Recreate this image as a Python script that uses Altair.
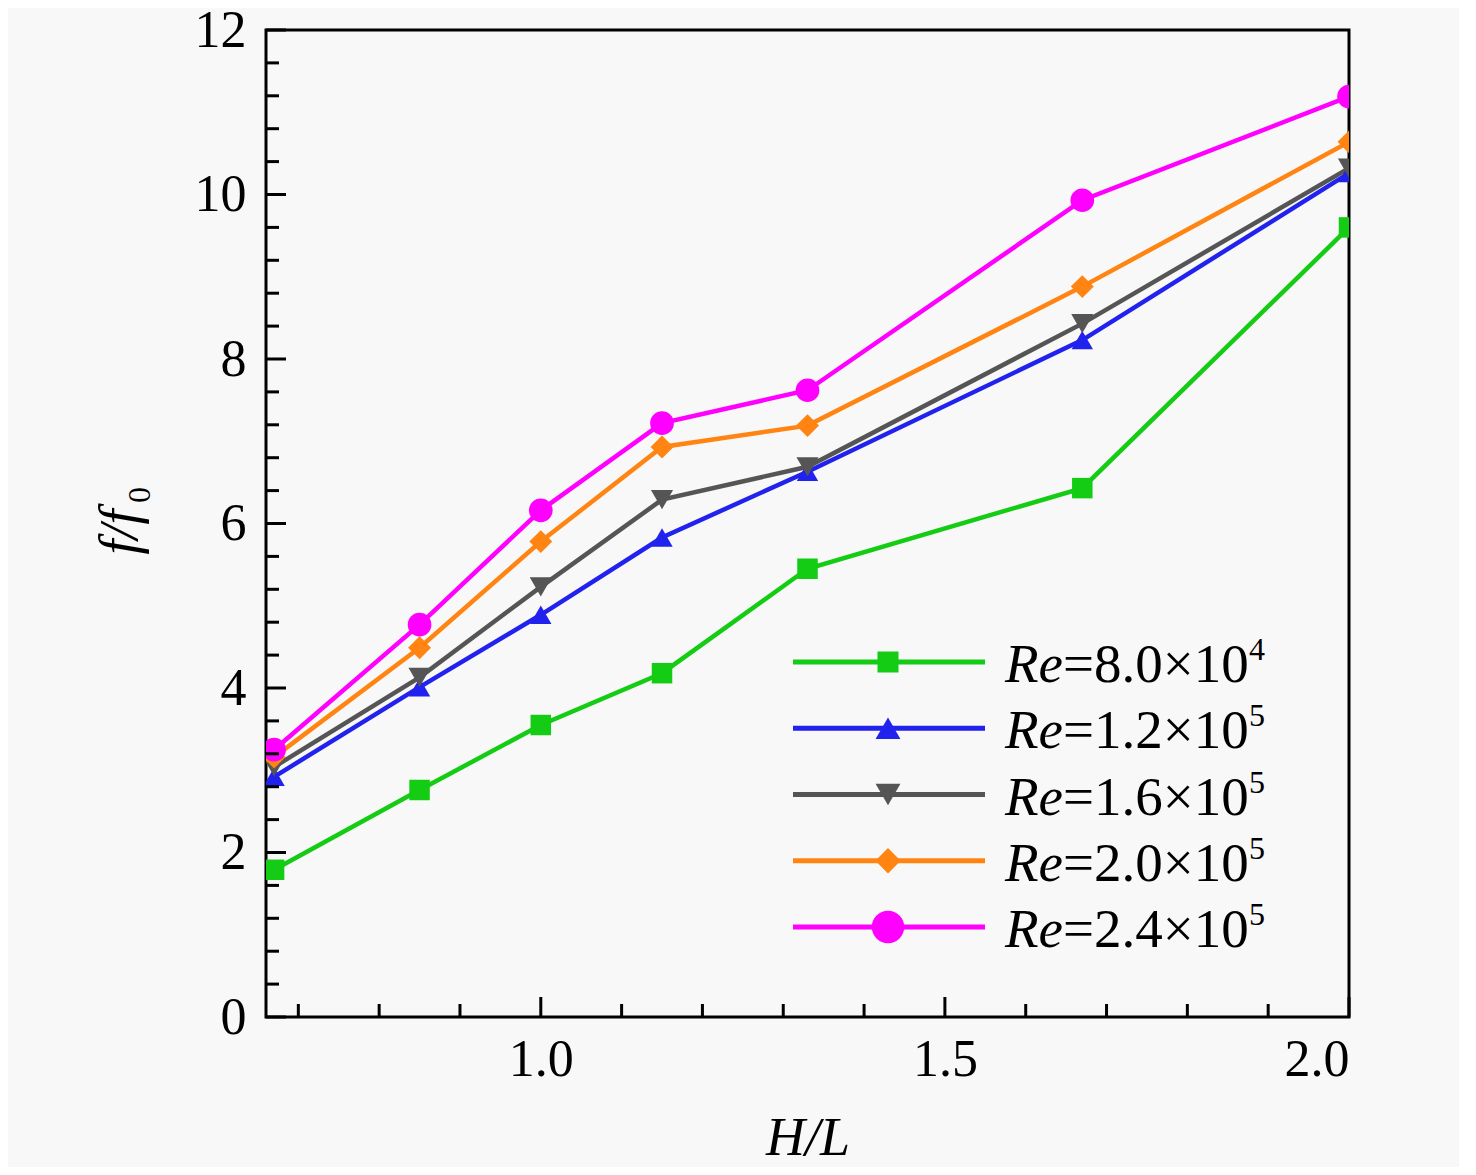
import altair as alt
import pandas as pd

# ---------------- data ----------------
hl = [0.67, 0.85, 1.0, 1.15, 1.33, 1.67, 2.0]
re_80 = [1.79, 2.76, 3.55, 4.18, 5.45, 6.43, 9.60]
re_120 = [2.92, 4.01, 4.89, 5.83, 6.63, 8.23, 10.26]
re_160 = [3.04, 4.13, 5.23, 6.29, 6.69, 8.43, 10.32]
re_200 = [3.16, 4.49, 5.78, 6.93, 7.19, 8.88, 10.64]
re_240 = [3.25, 4.77, 6.16, 7.22, 7.62, 9.93, 11.19]

series_names = ["Re=8.0e4", "Re=1.2e5", "Re=1.6e5", "Re=2.0e5", "Re=2.4e5"]
series_vals = [re_80, re_120, re_160, re_200, re_240]
colors = ["#14CC14", "#2222EE", "#555555", "#FF8411", "#FF00FF"]
shapes = ["square", "triangle-up", "triangle-down", "diamond", "circle"]
sizes = [420, 560, 560, 560, 800]
legend_sizes = [440, 620, 620, 640, 1050]
legend_mant = ["=8.0\u00d710", "=1.2\u00d710", "=1.6\u00d710", "=2.0\u00d710", "=2.4\u00d710"]
legend_exp = ["4", "5", "5", "5", "5"]

x_major = [1.0, 1.5, 2.0]
x_minor = [0.7, 0.8, 0.9, 1.1, 1.2, 1.3, 1.4, 1.6, 1.7, 1.8, 1.9]
y_major = [0, 2, 4, 6, 8, 10, 12]
y_minor = [0.4, 0.8, 1.2, 1.6, 2.4, 2.8, 3.2, 3.6, 4.4, 4.8, 5.2, 5.6,
           6.4, 6.8, 7.2, 7.6, 8.4, 8.8, 9.2, 9.6, 10.4, 10.8, 11.2, 11.6]

rows = []
for name, vals in zip(series_names, series_vals):
    for xv, yv in zip(hl, vals):
        rows.append({"series": name, "hl": xv, "ff": yv})
df = pd.DataFrame(rows)

W, H = 1083, 987
FONT = "Liberation Serif"
BG = "#f8f8f8"

xscale = alt.Scale(domain=[0.66, 2.0], nice=False, zero=False)
yscale = alt.Scale(domain=[0, 12], nice=False, zero=True)
cscale = alt.Scale(domain=series_names, range=colors)
sscale = alt.Scale(domain=series_names, range=shapes)
zscale = alt.Scale(domain=series_names, range=sizes)

xaxis = alt.Axis(values=x_major, format=".1f", ticks=False, domain=False, grid=False,
                 title=None, labelFont=FONT, labelFontSize=52, labelColor="black",
                 labelPadding=58, labelBaseline="alphabetic")
yaxis = alt.Axis(values=y_major, format="d", ticks=False, domain=False, grid=False,
                 title=None, labelFont=FONT, labelFontSize=52, labelColor="black",
                 labelPadding=20)

base = alt.Chart(df)

lines = base.mark_line(strokeWidth=4.5, clip=True).encode(
    x=alt.X("hl:Q", scale=xscale, axis=xaxis),
    y=alt.Y("ff:Q", scale=yscale, axis=yaxis),
    color=alt.Color("series:N", scale=cscale, legend=None),
    detail="series:N",
)
points = base.mark_point(filled=True, opacity=1, clip=True).encode(
    x=alt.X("hl:Q", scale=xscale),
    y=alt.Y("ff:Q", scale=yscale),
    color=alt.Color("series:N", scale=cscale, legend=None),
    shape=alt.Shape("series:N", scale=sscale, legend=None),
    size=alt.Size("series:N", scale=zscale, legend=None),
)

# inward ticks
ymaj = alt.Chart(pd.DataFrame({"v": y_major})).mark_rule(color="black", strokeWidth=3).encode(
    y=alt.Y("v:Q", scale=yscale), x=alt.value(0), x2=alt.value(20))
ymin = alt.Chart(pd.DataFrame({"v": y_minor})).mark_rule(color="black", strokeWidth=3).encode(
    y=alt.Y("v:Q", scale=yscale), x=alt.value(0), x2=alt.value(13))
xmaj = alt.Chart(pd.DataFrame({"v": x_major})).mark_rule(color="black", strokeWidth=3).encode(
    x=alt.X("v:Q", scale=xscale), y=alt.value(H), y2=alt.value(H - 20))
xmin = alt.Chart(pd.DataFrame({"v": x_minor})).mark_rule(color="black", strokeWidth=3).encode(
    x=alt.X("v:Q", scale=xscale), y=alt.value(H), y2=alt.value(H - 13))

# legend
leg_df = pd.DataFrame({"series": series_names, "row": list(range(5)),
                       "mant": legend_mant, "exp": legend_exp, "lsize": legend_sizes})
leg = alt.Chart(leg_df).transform_calculate(
    ly="632 + 66.25 * datum.row", ty="652 + 66.25 * datum.row", sy="630 + 66.25 * datum.row")
leg_line = leg.mark_rule(strokeWidth=5).encode(
    x=alt.value(527), x2=alt.value(719), y=alt.Y("ly:Q", scale=None),
    color=alt.Color("series:N", scale=cscale, legend=None))
leg_pt = leg.mark_point(filled=True, opacity=1).encode(
    x=alt.value(622), y=alt.Y("ly:Q", scale=None),
    color=alt.Color("series:N", scale=cscale, legend=None),
    shape=alt.Shape("series:N", scale=sscale, legend=None),
    size=alt.Size("lsize:Q", scale=None, legend=None))
leg_re = leg.mark_text(text="Re", font=FONT, fontSize=55, fontStyle="italic",
                       align="left", baseline="alphabetic", color="black").encode(
    x=alt.value(739), y=alt.Y("ty:Q", scale=None))
leg_m = leg.mark_text(font=FONT, fontSize=55, align="left", baseline="alphabetic",
                      color="black").encode(
    x=alt.value(797), y=alt.Y("ty:Q", scale=None), text="mant:N")
leg_e = leg.mark_text(font=FONT, fontSize=32, align="left", baseline="alphabetic",
                      color="black").encode(
    x=alt.value(983), y=alt.Y("sy:Q", scale=None), text="exp:N")

# axis titles
one = pd.DataFrame({"k": [0]})
xtitle = alt.Chart(one).mark_text(text="H/L", font=FONT, fontSize=54, fontStyle="italic",
                                  align="center", baseline="bottom", color="black").encode(
    x=alt.value(542), y=alt.value(1136))
ytitle = alt.Chart(one).mark_text(text="f/f", font=FONT, fontSize=54, fontStyle="italic",
                                  angle=270, align="center", baseline="alphabetic",
                                  color="black").encode(
    x=alt.value(-129), y=alt.value(502))
ysub = alt.Chart(one).mark_text(text="0", font=FONT, fontSize=32,
                                angle=270, align="center", baseline="alphabetic",
                                color="black").encode(
    x=alt.value(-116), y=alt.value(465))

chart = alt.layer(
    lines, points, ymaj, ymin, xmaj, xmin,
    leg_line, leg_pt, leg_re, leg_m, leg_e, xtitle, ytitle, ysub,
).properties(
    width=W, height=H,
    autosize=alt.AutoSizeParams(type="none"),
    padding={"left": 258, "top": 22, "right": 110, "bottom": 150},
    background=BG,
).configure_view(
    stroke="black", strokeWidth=3, fill=BG,
)

chart.save("out.html", embed_options={"renderer": "svg", "actions": False})
